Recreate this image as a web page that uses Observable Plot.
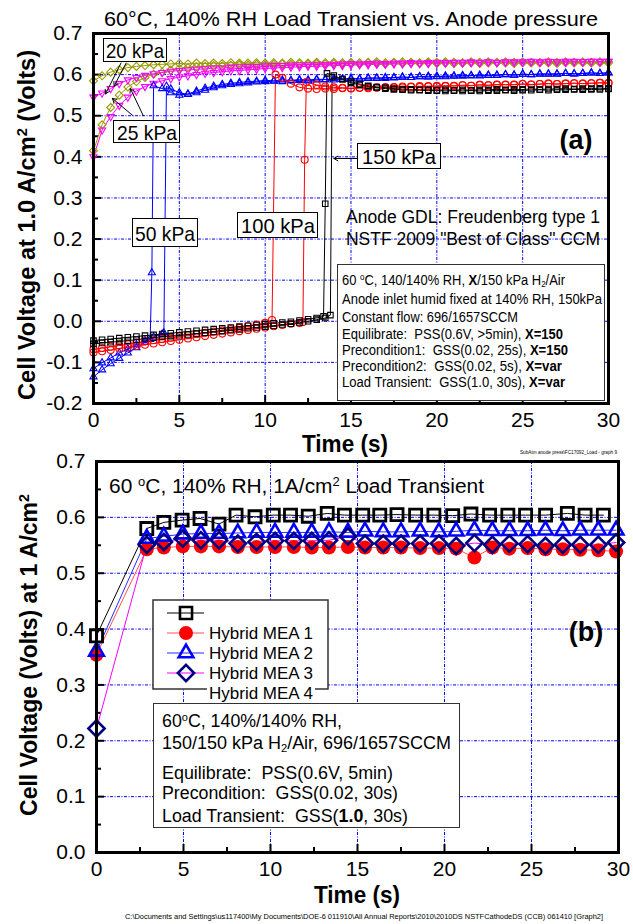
<!DOCTYPE html>
<html><head><meta charset="utf-8">
<script src="https://cdn.jsdelivr.net/npm/d3@7"></script>
<script src="https://cdn.jsdelivr.net/npm/@observablehq/plot@0.6"></script>
<style>
body{margin:0;background:#fff;}
#wrap{position:relative;width:633px;height:924px;overflow:hidden;background:#fff;}
.abs{position:absolute;white-space:nowrap;line-height:1;}
.box{position:absolute;background:#fff;box-sizing:border-box;}
sub{font-size:0.62em;vertical-align:-0.25em;line-height:0;}
sup{font-size:0.62em;vertical-align:0.55em;line-height:0;}
</style></head>
<body><div id="wrap"></div>
<script>
// ---------------- DATA: top panel (a) ----------------
const xTicks = [0, 5, 10, 15, 20, 25, 30];
const xMinor = [2.5, 7.5, 12.5, 17.5, 22.5, 27.5];
const xGrid = [5, 10, 15, 20, 25];
const yTicksA = [0.7, 0.6, 0.5, 0.4, 0.3, 0.2, 0.1, 0, -0.1, -0.2];
const yMinorA = [0.65, 0.55, 0.45, 0.35, 0.25, 0.15, 0.05, -0.05, -0.15];
const yGridA = [0.6, 0.5, 0.4, 0.3, 0.2, 0.1, 0, -0.1];

const tHalf = [0,0.5,1,1.5,2,2.5,3,3.5,4,4.5,5,5.5,6,6.5,7,7.5,8,8.5,9,9.5,10,10.5,11,11.5,12,12.5,13,13.5,14,14.5,15,15.5,16,16.5,17,17.5,18,18.5,19,19.5,20,20.5,21,21.5,22,22.5,23,23.5,24,24.5,25,25.5,26,26.5,27,27.5,28,28.5,29,29.5,30];

// olive, 20/25 kPa runs
const olive1V = [0.585,0.597,0.606,0.612,0.617,0.620,0.622,0.624,0.625,0.626,
0.627,0.626,0.628,0.627,0.628,0.627,0.629,0.628,0.628,0.629,
0.628,0.629,0.628,0.630,0.629,0.628,0.630,0.629,0.630,0.629,
0.630,0.629,0.630,0.631,0.629,0.630,0.631,0.630,0.629,0.631,
0.630,0.631,0.630,0.629,0.631,0.630,0.631,0.630,0.631,0.630,
0.631,0.630,0.629,0.631,0.630,0.631,0.630,0.631,0.630,0.631,0.631];
const olive2V = [0.415,0.478,0.520,0.550,0.570,0.583,0.593,0.601,0.606,0.611,
0.615,0.617,0.619,0.620,0.622,0.621,0.623,0.624,0.623,0.625,
0.624,0.625,0.626,0.625,0.626,0.625,0.627,0.626,0.627,0.626,
0.627,0.626,0.628,0.627,0.626,0.628,0.627,0.628,0.627,0.628,
0.627,0.628,0.627,0.628,0.629,0.627,0.628,0.629,0.628,0.627,
0.629,0.628,0.629,0.628,0.627,0.629,0.628,0.629,0.628,0.629,0.628];
// magenta runs
const magenta1V = [0.545,0.555,0.566,0.578,0.587,0.593,0.598,0.602,0.605,0.608,
0.610,0.611,0.613,0.614,0.616,0.616,0.618,0.619,0.620,0.620,
0.621,0.622,0.622,0.623,0.624,0.624,0.625,0.625,0.625,0.626,
0.627,0.626,0.627,0.628,0.627,0.628,0.628,0.629,0.628,0.629,
0.630,0.629,0.630,0.630,0.631,0.630,0.631,0.630,0.631,0.631,
0.631,0.632,0.631,0.632,0.631,0.632,0.632,0.631,0.632,0.632,0.632];
const magenta2V = [0.400,0.465,0.498,0.525,0.545,0.560,0.571,0.579,0.585,0.590,
0.594,0.597,0.600,0.603,0.605,0.607,0.609,0.610,0.612,0.613,
0.615,0.616,0.617,0.618,0.619,0.620,0.620,0.621,0.622,0.622,
0.623,0.624,0.624,0.625,0.625,0.626,0.626,0.627,0.627,0.627,
0.628,0.628,0.629,0.628,0.629,0.629,0.630,0.629,0.630,0.630,
0.630,0.631,0.630,0.631,0.631,0.630,0.631,0.631,0.632,0.631,0.632];

// blue, 50 kPa runs
const blue1T = [0,0.5,1,1.5,2,2.5,3,3.3,3.4,3.5,4,4.5,5,5.5,6,6.5,7,7.5,8,8.5,9,9.5,10,
10.5,11,11.5,12,12.5,13,13.5,14,14.5,15,15.5,16,16.5,17,17.5,18,18.5,19,19.5,20,20.5,21,21.5,22,22.5,23,23.5,24,24.5,25,25.5,26,26.5,27,27.5,28,28.5,29,29.5,30];
const blue1V = [-0.135,-0.118,-0.103,-0.090,-0.077,-0.064,-0.051,-0.044,0.118,0.573,
0.566,0.556,0.550,0.553,0.560,0.567,0.572,0.576,0.579,0.581,0.583,0.584,0.586,
0.585,0.587,0.586,0.588,0.587,0.589,0.588,0.590,0.589,0.591,
0.590,0.592,0.591,0.593,0.592,0.594,0.593,0.595,0.594,0.596,
0.595,0.597,0.596,0.598,0.597,0.599,0.598,0.600,0.599,0.601,
0.600,0.601,0.602,0.601,0.603,0.602,0.603,0.604,0.603,0.604];
const blue2T = [0,0.5,1,1.5,2,2.5,3,3.5,4,4.1,4.25,4.5,5,5.5,6,6.5,7,7.5,8,8.5,9,9.5,10,
10.5,11,11.5,12,12.5,13,13.5,14,14.5,15,15.5,16,16.5,17,17.5,18,18.5,19,19.5,20,20.5,21,21.5,22,22.5,23,23.5,24,24.5,25,25.5,26,26.5,27,27.5,28,28.5,29,29.5,30];
const blue2V = [-0.115,-0.101,-0.089,-0.077,-0.067,-0.057,-0.047,-0.038,-0.031,-0.028,0.572,
0.565,0.556,0.552,0.556,0.562,0.568,0.573,0.576,0.578,0.580,0.582,0.583,
0.584,0.583,0.585,0.586,0.585,0.587,0.588,0.587,0.589,0.590,
0.589,0.591,0.592,0.591,0.593,0.594,0.593,0.595,0.596,0.595,
0.597,0.596,0.598,0.597,0.599,0.598,0.599,0.600,0.599,0.601,
0.600,0.602,0.601,0.602,0.603,0.602,0.603,0.604,0.603,0.605];

// red, 100 kPa runs
const red1T = [0,0.5,1,1.5,2,2.5,3,3.5,4,4.5,5,5.5,6,6.5,7,7.5,8,8.5,9,9.5,10,10.4,10.6,
11,11.5,12,12.5,13,13.5,14,14.5,15,15.5,16,16.5,17,17.5,18,18.5,19,19.5,20,20.5,21,21.5,22,22.5,23,23.5,24,24.5,25,25.5,26,26.5,27,27.5,28,28.5,29,29.5,30];
const red1V = [-0.068,-0.065,-0.062,-0.059,-0.056,-0.052,-0.049,-0.046,-0.043,-0.040,-0.037,-0.034,-0.031,-0.028,-0.025,-0.022,-0.019,-0.016,-0.012,-0.008,-0.004,0.003,0.600,
0.592,0.578,0.569,0.566,0.565,0.566,0.565,0.567,0.566,0.568,
0.567,0.569,0.568,0.570,0.569,0.571,0.570,0.572,0.571,0.573,
0.572,0.574,0.573,0.575,0.574,0.575,0.576,0.575,0.577,0.576,
0.577,0.578,0.577,0.578,0.579,0.578,0.579,0.580,0.580];
const red2T = [0,0.5,1,1.5,2,2.5,3,3.5,4,4.5,5,5.5,6,6.5,7,7.5,8,8.5,9,9.5,10,10.5,11,11.5,12,12.2,12.3,12.4,
13,13.5,14,14.5,15,15.5,16,16.5,17,17.5,18,18.5,19,19.5,20,20.5,21,21.5,22,22.5,23,23.5,24,24.5,25,25.5,26,26.5,27,27.5,28,28.5,29,29.5,30];
const red2V = [-0.076,-0.073,-0.070,-0.066,-0.063,-0.060,-0.057,-0.054,-0.051,-0.048,-0.045,-0.042,-0.039,-0.036,-0.033,-0.030,-0.027,-0.024,-0.021,-0.018,-0.015,-0.012,-0.009,-0.006,-0.004,-0.002,0.393,0.582,
0.575,0.571,0.569,0.568,0.567,0.568,0.569,0.568,0.570,0.569,
0.571,0.570,0.572,0.571,0.573,0.572,0.573,0.574,0.573,0.575,
0.574,0.576,0.575,0.576,0.577,0.576,0.577,0.578,0.577,0.578,
0.579,0.578,0.579,0.580,0.579];

// black, 150 kPa runs
const black1T = [0,0.5,1,1.5,2,2.5,3,3.5,4,4.5,5,5.5,6,6.5,7,7.5,8,8.5,9,9.5,10,10.5,11,11.5,12,12.5,13,13.4,13.5,13.6,
14,14.5,15,15.5,16,16.5,17,17.5,18,18.5,19,19.5,20,20.5,21,21.5,22,22.5,23,23.5,24,24.5,25,25.5,26,26.5,27,27.5,28,28.5,29,29.5,30];
const black1V = [-0.047,-0.045,-0.043,-0.041,-0.039,-0.037,-0.035,-0.033,-0.031,-0.029,-0.027,-0.025,-0.023,-0.021,-0.019,-0.017,-0.015,-0.013,-0.011,-0.009,-0.007,-0.005,-0.003,-0.001,0.002,0.005,0.008,0.012,0.286,0.603,
0.598,0.588,0.580,0.575,0.571,0.568,0.566,0.564,0.563,0.562,
0.562,0.561,0.561,0.560,0.561,0.560,0.561,0.560,0.561,0.561,
0.562,0.561,0.562,0.562,0.563,0.562,0.563,0.563,0.564,0.563,
0.564,0.564,0.565];
const black2T = [0,0.5,1,1.5,2,2.5,3,3.5,4,4.5,5,5.5,6,6.5,7,7.5,8,8.5,9,9.5,10,10.5,11,11.5,12,12.5,13,13.5,13.8,13.9,
14.5,15,15.5,16,16.5,17,17.5,18,18.5,19,19.5,20,20.5,21,21.5,22,22.5,23,23.5,24,24.5,25,25.5,26,26.5,27,27.5,28,28.5,29,29.5,30];
const black2V = [-0.055,-0.053,-0.051,-0.049,-0.047,-0.045,-0.042,-0.040,-0.038,-0.036,-0.034,-0.032,-0.030,-0.028,-0.026,-0.024,-0.022,-0.020,-0.017,-0.015,-0.013,-0.011,-0.008,-0.006,-0.003,0.000,0.004,0.008,0.015,0.594,
0.590,0.583,0.577,0.573,0.570,0.568,0.566,0.565,0.564,0.563,
0.563,0.562,0.563,0.562,0.563,0.562,0.563,0.563,0.564,0.563,
0.564,0.564,0.565,0.564,0.565,0.565,0.566,0.565,0.566,0.566,
0.567,0.566];

// label arrows (a)
const arrowsA = [
  {x1: 1.6, y1: 0.628, x2: 0.7, y2: 0.553},
  {x1: 1.9, y1: 0.628, x2: 1.2, y2: 0.572},
  {x1: 2.3, y1: 0.500, x2: 1.1, y2: 0.542},
  {x1: 2.9, y1: 0.500, x2: 2.15, y2: 0.566},
  {x1: 15.4, y1: 0.396, x2: 14.0, y2: 0.396}
];

// ---------------- DATA: bottom panel (b) ----------------
const yTicksB = [0, 0.1, 0.2, 0.3, 0.4, 0.5, 0.6, 0.7];
const yMinorB = [0.05, 0.15, 0.25, 0.35, 0.45, 0.55, 0.65];
const yGridB = [0.1, 0.2, 0.3, 0.4, 0.5, 0.6];
const tMEA = [0,2.89,3.87,4.96,6.0,7.04,8.12,9.2,10.26,11.34,12.37,13.36,14.45,15.43,16.48,17.5,18.6,19.68,20.67,21.72,22.75,23.73,24.78,25.8,26.8,27.8,28.84,29.86];
const tBase = [0,2.89,3.87,4.92,5.95,7.04,8.02,9.11,10.16,11.15,12.17,13.26,14.25,15.3,16.28,17.27,18.34,19.39,20.47,21.52,22.59,23.64,24.66,25.81,27.06,28.08,29.13];
const baseV = [0.388,0.580,0.591,0.595,0.598,0.588,0.604,0.601,0.604,0.604,0.602,0.607,0.604,0.604,0.604,0.605,0.604,0.604,0.603,0.606,0.604,0.604,0.604,0.604,0.607,0.604,0.604];
const mea1V = [0.354,0.543,0.546,0.548,0.548,0.548,0.547,0.547,0.547,0.547,0.546,0.546,0.547,0.546,0.546,0.546,0.545,0.545,0.544,0.528,0.546,0.544,0.545,0.543,0.543,0.542,0.541,0.539];
const mea2V = [0.360,0.562,0.566,0.570,0.571,0.571,0.572,0.573,0.573,0.573,0.573,0.574,0.573,0.575,0.574,0.574,0.575,0.574,0.575,0.577,0.576,0.576,0.576,0.577,0.576,0.577,0.577,0.577];
const mea3V = [0.222,0.551,0.556,0.562,0.559,0.559,0.553,0.556,0.558,0.558,0.558,0.559,0.566,0.553,0.553,0.553,0.553,0.553,0.549,0.554,0.551,0.553,0.552,0.549,0.551,0.551,0.551,0.555];
const legendNames = ["", "Hybrid MEA 1", "Hybrid MEA 2", "Hybrid MEA 3", "Hybrid MEA 4"];

// ---------------- BUILD ----------------
const FONT = "'Liberation Sans', Arial, Helvetica, sans-serif";
const wrap = document.getElementById("wrap");
const rows = (t, v) => t.map((ti, i) => ({t: ti, v: v[i]}));

const seriesA = [
  {t: tHalf, v: olive1V, color: "#999900", symbol: "diamond2", r: 3.6},
  {t: tHalf, v: olive2V, color: "#999900", symbol: "diamond2", r: 3.6},
  {t: tHalf, v: magenta1V, color: "#ff00ff", symbol: "triangle2", r: 3.4, rotate: 180},
  {t: tHalf, v: magenta2V, color: "#ff00ff", symbol: "triangle2", r: 3.4, rotate: 180},
  {t: blue1T, v: blue1V, color: "#0000ff", symbol: "triangle2", r: 3.4},
  {t: blue2T, v: blue2V, color: "#0000ff", symbol: "triangle2", r: 3.4},
  {t: red1T, v: red1V, color: "#ff0000", symbol: "circle", r: 3.5},
  {t: red2T, v: red2V, color: "#ff0000", symbol: "circle", r: 3.5},
  {t: black1T, v: black1V, color: "#000000", symbol: "square", r: 3.1},
  {t: black2T, v: black2V, color: "#000000", symbol: "square", r: 3.1}
];

const gridStyle = {stroke: "#0000ff", strokeWidth: 1, strokeDasharray: "3,1.5,1,1.5"};
const HA = 448, HB = 476;
const axisStyle = {fontFamily: FONT, fontSize: "21px", overflow: "visible", background: "transparent", color: "#000"};

const plotA = Plot.plot({
  width: 633, height: HA,
  marginLeft: 93, marginRight: 25, marginTop: 33, marginBottom: 45,
  x: {domain: [0, 30]}, y: {domain: [-0.2, 0.7]},
  style: axisStyle,
  marks: [
    Plot.ruleX(xGrid, {x: d => d, ...gridStyle}),
    Plot.ruleY(yGridA, {y: d => d, ...gridStyle}),
    Plot.tickY(yTicksA, {y: d => d, insetRight: 515 - 8, strokeWidth: 2}),
    Plot.tickY(yMinorA, {y: d => d, insetRight: 515 - 5, strokeWidth: 2}),
    Plot.tickX(xTicks, {x: d => d, insetTop: 370 - 8, strokeWidth: 2}),
    Plot.tickX(xMinor, {x: d => d, insetTop: 370 - 5, strokeWidth: 2}),
    ...seriesA.map(s => Plot.line(rows(s.t, s.v), {x: "t", y: "v", stroke: s.color, strokeWidth: 1})),
    ...seriesA.map(s => Plot.dot(rows(s.t, s.v), {x: "t", y: "v", stroke: s.color, fill: "none", symbol: s.symbol, r: s.r, strokeWidth: 1.1, rotate: s.rotate || 0})),
    Plot.arrow(arrowsA, {x1: "x1", y1: "y1", x2: "x2", y2: "y2", stroke: "#000", strokeWidth: 1, headLength: 7}),
    Plot.axisY({ticks: yTicksA, tickFormat: d => d.toFixed(1), tickSize: 0, tickPadding: 11, label: null}),
    Plot.axisX({ticks: xTicks, tickSize: 0, tickPadding: 9, label: null}),
    Plot.frame({stroke: "#000", strokeWidth: 3})
  ]
});
plotA.style.position = "absolute"; plotA.style.left = "0px"; plotA.style.top = "0px";
wrap.appendChild(plotA);

const plotB = Plot.plot({
  width: 633, height: HB,
  marginLeft: 96, marginRight: 15, marginTop: 13, marginBottom: 72,
  x: {domain: [0, 30]}, y: {domain: [0, 0.7]},
  style: axisStyle,
  marks: [
    Plot.ruleX(xGrid, {x: d => d, ...gridStyle}),
    Plot.ruleY(yGridB, {y: d => d, ...gridStyle}),
    Plot.tickY(yTicksB, {y: d => d, insetRight: 522 - 8, strokeWidth: 2}),
    Plot.tickY(yMinorB, {y: d => d, insetRight: 522 - 5, strokeWidth: 2}),
    Plot.tickX(xTicks, {x: d => d, insetTop: 391 - 8, strokeWidth: 2}),
    Plot.tickX(xMinor, {x: d => d, insetTop: 391 - 5, strokeWidth: 2}),
    Plot.line(rows(tBase, baseV), {x: "t", y: "v", stroke: "#000", strokeWidth: 1}),
    Plot.line(rows(tMEA, mea1V), {x: "t", y: "v", stroke: "#ff5050", strokeWidth: 1}),
    Plot.line(rows(tMEA, mea2V), {x: "t", y: "v", stroke: "#2a2aff", strokeWidth: 1}),
    Plot.line(rows(tMEA, mea3V), {x: "t", y: "v", stroke: "#ff00ff", strokeWidth: 1}),
    Plot.dot(rows(tMEA, mea1V), {x: "t", y: "v", fill: "#ff0000", stroke: "none", symbol: "circle", r: 7}),
    Plot.dot(rows(tBase, baseV), {x: "t", y: "v", fill: "none", stroke: "#000", strokeWidth: 2.8, symbol: "square", r: 6.8}),
    Plot.dot(rows(tMEA, mea2V), {x: "t", y: "v", fill: "none", stroke: "#0000ff", strokeWidth: 2.6, symbol: "triangle2", r: 7}),
    Plot.dot(rows(tMEA, mea3V), {x: "t", y: "v", fill: "none", stroke: "#000080", strokeWidth: 2.6, symbol: "diamond2", r: 7.3}),
    Plot.axisY({ticks: yTicksB, tickFormat: d => d.toFixed(1), tickSize: 0, tickPadding: 11, label: null}),
    Plot.axisX({ticks: xTicks, tickSize: 0, tickPadding: 9, label: null}),
    Plot.frame({stroke: "#000", strokeWidth: 3})
  ]
});
plotB.style.position = "absolute"; plotB.style.left = "0px"; plotB.style.top = HA + "px";
wrap.appendChild(plotB);

// ---------------- TEXT / ANNOTATION HELPERS ----------------
function txt(html, o) {
  const el = document.createElement("div");
  el.className = "abs";
  el.innerHTML = html;
  Object.assign(el.style, {left: o.x + "px", top: o.y + "px", fontSize: (o.size || 16) + "px",
    fontWeight: o.weight || "normal", fontFamily: o.family || FONT, color: o.color || "#000"});
  if (o.bg) { el.style.background = o.bg; el.style.padding = "1px 2px"; }
  wrap.appendChild(el);
  let k = 1;
  if (o.width) k = o.width / el.getBoundingClientRect().width;
  const a = o.anchor || "start";
  const tx = a === "start" ? "0" : a === "middle" ? "-50%" : "-100%";
  el.style.transformOrigin = (a === "start" ? "left" : a === "middle" ? "center" : "right") + " center";
  el.style.transform = `translate(${tx},-50%)` + (o.rotate ? ` rotate(${o.rotate}deg)` : "") + (k !== 1 ? ` scaleX(${k})` : "");
  return el;
}
function box(x, y, w, h, border) {
  const el = document.createElement("div");
  el.className = "box";
  Object.assign(el.style, {left: x + "px", top: y + "px", width: w + "px", height: h + "px", border: border || "1.5px solid #000"});
  wrap.appendChild(el);
  return el;
}

// ---- panel (a) texts ----
txt("60°C, 140% RH Load Transient vs. Anode pressure", {x: 351, y: 18, size: 21, anchor: "middle", width: 494});
txt("Cell Voltage at 1.0 A/cm<sup>2</sup> (Volts)", {x: 27, y: 225, size: 23, weight: "bold", anchor: "middle", rotate: -90, width: 350});
txt("Time (s)", {x: 345, y: 444, size: 24, weight: "bold", anchor: "middle", width: 86});
txt("SubAtm anode press\\FC17092_Load - graph 9", {x: 617, y: 452, size: 6, anchor: "end", width: 97});
txt("(a)", {x: 576, y: 140, size: 27, weight: "bold", anchor: "middle"});

box(103, 38, 64, 24); txt("20 kPa", {x: 135, y: 50, size: 21, anchor: "middle", width: 58});
box(113, 120, 67, 23); txt("25 kPa", {x: 146.5, y: 131.5, size: 21, anchor: "middle", width: 60});
box(132, 218, 66, 29); txt("50 kPa", {x: 165, y: 232.5, size: 21, anchor: "middle", width: 60});
box(237, 212, 81, 26); txt("100 kPa", {x: 277.5, y: 225, size: 21, anchor: "middle", width: 74});
box(357, 143, 84, 26); txt("150 kPa", {x: 399, y: 156, size: 21, anchor: "middle", width: 74});

txt("Anode GDL: Freudenberg type 1", {x: 346, y: 217, size: 18, width: 254});
txt("NSTF 2009 \"Best of Class\" CCM", {x: 346, y: 239, size: 18, width: 254});

box(337, 264, 268, 137, "1.5px solid #333");
const infoA = [
  ["60 <sup>o</sup>C, 140/140% RH, <b>X</b>/150 kPa H<sub>2</sub>/Air", 280, 223],
  ["Anode inlet humid fixed at 140% RH, 150kPa", 299, 260],
  ["Constant flow: 696/1657SCCM", 317, 176],
  ["Equilibrate:&nbsp; PSS(0.6V, &gt;5min), <b>X=150</b>", 333.5, 221],
  ["Precondition1:&nbsp; GSS(0.02, 25s), <b>X=150</b>", 349.5, 226],
  ["Precondition2:&nbsp; GSS(0.02, 5s), <b>X=var</b>", 366, 220],
  ["Load Transient:&nbsp; GSS(1.0, 30s), <b>X=var</b>", 382, 223]
];
infoA.forEach(([h, y, w]) => txt(h, {x: 342, y, size: 14, width: w}));

// ---- panel (b) texts ----
txt("Cell Voltage (Volts) at 1 A/cm<sup>2</sup>", {x: 29, y: 655, size: 23, weight: "bold", anchor: "middle", rotate: -90});
txt("Time (s)", {x: 357, y: 895, size: 24, weight: "bold", anchor: "middle", width: 86});
txt("C:\\Documents and Settings\\us117400\\My Documents\\DOE-6 011910\\All Annual Reports\\2010\\2010DS NSTFCathodeDS (CCB) 061410 [Graph2]", {x: 364, y: 917, size: 7.5, anchor: "middle", width: 478});
txt("60 <sup>o</sup>C, 140% RH, 1A/cm<sup>2</sup> Load Transient", {x: 109, y: 486, size: 20, width: 375});
txt("(b)", {x: 586, y: 632, size: 27, weight: "bold", anchor: "middle"});

// legend (b)
const leg = d3.select(wrap).append("svg")
  .attr("width", 177).attr("height", 91)
  .style("position", "absolute").style("left", "152px").style("top", "599px");
leg.append("rect").attr("x", 1).attr("y", 1).attr("width", 175).attr("height", 89)
  .attr("fill", "#fff").attr("stroke", "#333").attr("stroke-width", 1.5);
const legItems = [
  {line: "#000", type: d3.symbolSquare, r: 6.8, fill: "none", stroke: "#000"},
  {line: "#ff5050", type: d3.symbolCircle, r: 7, fill: "#ff0000", stroke: "none"},
  {line: "#2a2aff", type: d3.symbolTriangle2, r: 7, fill: "none", stroke: "#0000ff"},
  {line: "#ff00ff", type: d3.symbolDiamond2, r: 7.3, fill: "none", stroke: "#000080"}
];
legItems.forEach((it, i) => {
  const y = 14 + i * 20;
  leg.append("line").attr("x1", 15).attr("x2", 52).attr("y1", y).attr("y2", y).attr("stroke", it.line).attr("stroke-width", 1);
  leg.append("path").attr("d", d3.symbol(it.type, Math.PI * it.r * it.r)())
    .attr("transform", `translate(34,${y})`).attr("fill", it.fill).attr("stroke", it.stroke).attr("stroke-width", 2.6);
  if (legendNames[i]) leg.append("text").attr("x", 57).attr("y", y).attr("dy", "0.35em")
    .attr("font-family", FONT).attr("font-size", 17).text(legendNames[i]);
});
txt(legendNames[4], {x: 207, y: 693, size: 17, bg: "#fff"});

box(153, 703, 307, 125, "1.5px solid #333");
const infoB = [
  ["60<sup>o</sup>C, 140%/140% RH,", 721, 180],
  ["150/150 kPa H<sub>2</sub>/Air, 696/1657SCCM", 743, 289],
  ["Equilibrate:&nbsp; PSS(0.6V, 5min)", 773, 231],
  ["Precondition:&nbsp; GSS(0.02, 30s)", 793, 236],
  ["Load Transient:&nbsp; GSS(<b>1.0</b>, 30s)", 816, 246]
];
infoB.forEach(([h, y, w]) => txt(h, {x: 162, y, size: 18, width: w}));
</script>
</body></html>
